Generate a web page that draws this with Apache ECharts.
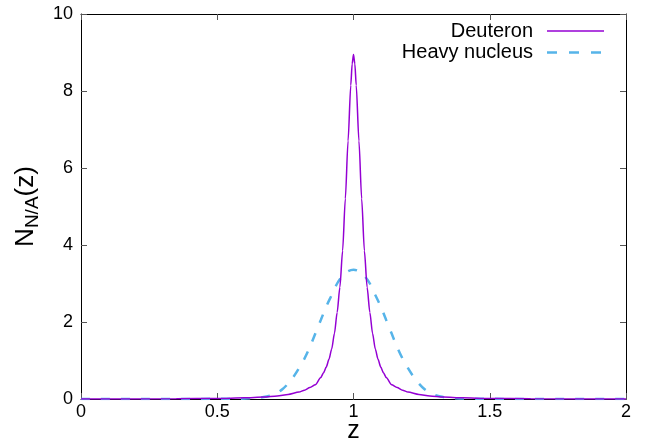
<!DOCTYPE html>
<html><head><meta charset="utf-8">
<script src="https://cdn.jsdelivr.net/npm/echarts@6/dist/echarts.min.js"></script>
<style>html,body{margin:0;padding:0;background:#fff}#c{width:662px;height:441px}</style>
</head><body><div id="c"></div>
<script>
const zDeut = [0, 0.35, 0.5, 0.6, 0.67, 0.72, 0.76, 0.80, 0.82, 0.84, 0.86, 0.88, 0.89, 0.90, 0.91, 0.92, 0.93, 0.94, 0.95, 0.96, 0.97, 0.98, 0.99, 0.995, 1.00, 1.005, 1.01, 1.02, 1.03, 1.04, 1.05, 1.06, 1.07, 1.08, 1.09, 1.10, 1.11, 1.12, 1.14, 1.16, 1.18, 1.20, 1.24, 1.28, 1.33, 1.40, 1.50, 1.65, 2.0];
const nDeut = [0, 0.005, 0.015, 0.03, 0.05, 0.08, 0.12, 0.18, 0.23, 0.3, 0.37, 0.56, 0.68, 0.83, 1.03, 1.3, 1.7, 2.25, 2.9, 3.85, 5.2, 6.7, 8.15, 8.7, 8.95, 8.7, 8.15, 6.7, 5.2, 3.85, 2.9, 2.25, 1.7, 1.3, 1.03, 0.83, 0.68, 0.56, 0.37, 0.3, 0.23, 0.18, 0.12, 0.08, 0.05, 0.03, 0.015, 0.005, 0];
const zHeavy = [0, 0.55, 0.63, 0.67, 0.70, 0.72, 0.74, 0.76, 0.78, 0.80, 0.82, 0.84, 0.86, 0.88, 0.90, 0.92, 0.94, 0.96, 0.98, 1.00, 1.02, 1.04, 1.06, 1.08, 1.10, 1.12, 1.14, 1.16, 1.18, 1.20, 1.22, 1.24, 1.26, 1.28, 1.30, 1.33, 1.37, 1.45, 2.0];
const nHeavy = [0, 0.005, 0.02, 0.05, 0.1, 0.16, 0.26, 0.4, 0.58, 0.8, 1.05, 1.35, 1.7, 2.05, 2.4, 2.7, 3.0, 3.2, 3.32, 3.36, 3.32, 3.2, 3.0, 2.7, 2.4, 2.05, 1.7, 1.35, 1.05, 0.8, 0.58, 0.4, 0.26, 0.16, 0.1, 0.05, 0.02, 0.005, 0];
const xTicks = [0, 0.5, 1, 1.5, 2];
const yTicks = [0, 2, 4, 6, 8, 10];
const seriesNames = ['Deuteron', 'Heavy nucleus'];
const seriesColors = ['#9400d3', '#56b4e9'];

const FONT = 'Liberation Sans, Arial, sans-serif';
const chart = echarts.init(document.getElementById('c'), null, {renderer: 'canvas'});
const baseX = {
  type: 'value', min: 0, max: 2, interval: 0.5,
  axisLine: {show: true, onZero: false, lineStyle: {color: '#000', width: 1}},
  axisTick: {show: true, inside: true, length: 6, lineStyle: {color: '#555'}},
  splitLine: {show: false}
};
const baseY = {
  type: 'value', min: 0, max: 10, interval: 2,
  axisLine: {show: true, onZero: false, lineStyle: {color: '#000', width: 1}},
  axisTick: {show: true, inside: true, length: 6, lineStyle: {color: '#555'}},
  splitLine: {show: false}
};
const legendGraphics = [];
seriesNames.forEach((n, i) => {
  const y = 31 + i * 21.5;
  legendGraphics.push({type: 'text', x: 533, y: y,
    style: {text: n, font: '20px ' + FONT, fill: '#000', textAlign: 'right', textVerticalAlign: 'middle'}});
  legendGraphics.push({type: 'line', shape: {x1: 547, y1: y, x2: 604, y2: y},
    style: {stroke: seriesColors[i], lineWidth: i === 0 ? 1.5 : 2.5, lineDash: i === 0 ? null : [10, 12]}});
});
chart.setOption({
  animation: false,
  backgroundColor: '#fff',
  grid: {left: 81, right: 36, top: 14, bottom: 42, containLabel: false, outerBoundsMode: 'none'},
  xAxis: [
    Object.assign({}, baseX, {
      position: 'bottom',
      name: 'z', nameLocation: 'middle', nameGap: 20, nameMoveOverlap: false,
      nameTextStyle: {fontFamily: FONT, fontSize: 25, color: '#000'},
      axisLabel: {show: true, margin: 4, fontFamily: FONT, fontSize: 18, color: '#000'}
    }),
    Object.assign({}, baseX, {position: 'top', axisLabel: {show: false}})
  ],
  yAxis: [
    Object.assign({}, baseY, {
      position: 'left',
      name: 'N{sub|N/A}(z)', nameLocation: 'middle', nameGap: 30, nameRotate: 90,
      nameTextStyle: {fontFamily: FONT, fontSize: 26, color: '#000',
        rich: {sub: {fontFamily: FONT, fontSize: 19, color: '#000', padding: [14, 0, 0, 0]}}},
      axisLabel: {show: true, margin: 8, fontFamily: FONT, fontSize: 18, color: '#000'}
    }),
    Object.assign({}, baseY, {position: 'right', axisLabel: {show: false}})
  ],
  graphic: legendGraphics,
  series: [
    {
      name: seriesNames[0], type: 'line', xAxisIndex: 0, yAxisIndex: 0,
      data: zDeut.map((z, i) => [z, nDeut[i]]),
      showSymbol: false, symbol: 'none', smooth: 0.25, smoothMonotone: 'x',
      lineStyle: {color: seriesColors[0], width: 1.5}, itemStyle: {color: seriesColors[0]}, z: 3
    },
    {
      name: seriesNames[1], type: 'line', xAxisIndex: 0, yAxisIndex: 0,
      data: zHeavy.map((z, i) => [z, nHeavy[i]]),
      showSymbol: false, symbol: 'none', smooth: 0.3,
      lineStyle: {color: seriesColors[1], width: 2.5, type: [9, 11]}, itemStyle: {color: seriesColors[1]}, z: 2
    }
  ]
});
</script></body></html>
